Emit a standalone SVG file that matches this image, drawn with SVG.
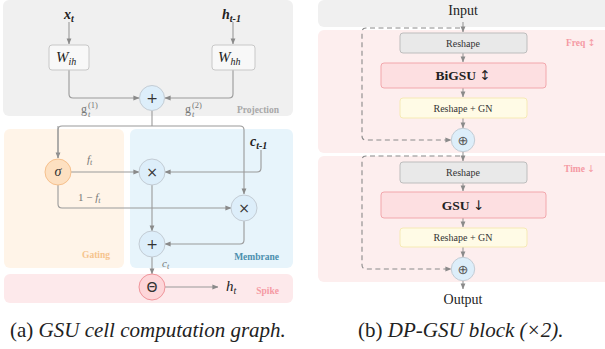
<svg xmlns="http://www.w3.org/2000/svg" width="605" height="349" viewBox="0 0 605 349">
<style>
  .serif { font-family: "Liberation Serif", "Times New Roman", serif; }
  .math { font-family: "Liberation Serif", serif; font-style: italic; }
  .lbl { font-family: "Liberation Serif", serif; font-weight: bold; font-size: 9.5px; }
  .op { font-family: "DejaVu Sans", sans-serif; font-size: 14px; fill: #333; text-anchor: middle; }
  .wire { fill: none; stroke: #9a9a9a; stroke-width: 1.1; }
  .dash { fill: none; stroke: #8a8a8a; stroke-width: 1.1; stroke-dasharray: 5 3.5; }
  .circ { fill: #ddeefa; stroke: #c3ccd4; stroke-width: 1; }
  .gray { fill: #e9e9e9; stroke: #bdbdbd; stroke-width: 1; }
  .red { fill: #fddfe1; stroke: #f2a7ac; stroke-width: 1; }
  .yel { fill: #fffbe6; stroke: #f6eab5; stroke-width: 1; }
  .wbox { fill: #f8f8f8; stroke: #c8c8c8; stroke-width: 1; }
</style>
<defs>
  <marker id="arr" viewBox="0 0 8 8" refX="7.5" refY="4" markerWidth="6" markerHeight="6" orient="auto" markerUnits="userSpaceOnUse">
    <path d="M0,0.8 L8,4 L0,7.2 Z" fill="#8a8a8a"/>
  </marker>
</defs>
<rect width="605" height="349" fill="#ffffff"/>

<!-- left: regions -->
<g id="regions-a">
  <rect x="3" y="0" width="290" height="116" rx="6" fill="#f0f0f0"/>
  <rect x="4" y="129" width="120" height="139" rx="6" fill="#fff4e8"/>
  <rect x="130" y="129" width="163" height="139" rx="6" fill="#e7f4fb"/>
  <rect x="4" y="274" width="289" height="29" rx="6" fill="#fde9eb"/>
  <text class="lbl" x="279" y="113" text-anchor="end" fill="#a8a8a8">Projection</text>
  <text class="lbl" x="110" y="258" text-anchor="end" fill="#f6c48e">Gating</text>
  <text class="lbl" x="279" y="260" text-anchor="end" fill="#4b8fae">Membrane</text>
  <text class="lbl" x="279" y="294" text-anchor="end" fill="#f59aa3">Spike</text>
</g>

<!-- left: connectors -->
<g id="connectors-a">
  <path class="wire" d="M69,22 V44" marker-end="url(#arr)"/>
  <path class="wire" d="M233,22 V44" marker-end="url(#arr)"/>
  <path class="wire" d="M69,70 V94 Q69,98 73,98 H139" marker-end="url(#arr)"/>
  <path class="wire" d="M233,70 V94 Q233,98 229,98 H165" marker-end="url(#arr)"/>
  <path class="wire" d="M152,111 V126"/>
  <path class="wire" d="M58,126 V158" marker-end="url(#arr)"/>
  <path class="wire" d="M58,158 V130 Q58,126 62,126 H240 Q244,126 244,130 V194" marker-end="url(#arr)"/>
  <path class="wire" d="M71,172 H139" marker-end="url(#arr)"/>
  <path class="wire" d="M261,150 V168 Q261,172 257,172 H165" marker-end="url(#arr)"/>
  <path class="wire" d="M58,185 V204 Q58,208 62,208 H231" marker-end="url(#arr)"/>
  <path class="wire" d="M152,185 V231" marker-end="url(#arr)"/>
  <path class="wire" d="M244,221 V240 Q244,244 240,244 H165" marker-end="url(#arr)"/>
  <path class="wire" d="M152,257 V274" marker-end="url(#arr)"/>
  <path class="wire" d="M165,287 H218" marker-end="url(#arr)"/>
</g>

<!-- left: nodes -->
<g id="x-t">
  <text class="math" x="64" y="19" font-size="14" font-weight="bold" fill="#222">x<tspan font-size="10" dy="3">t</tspan></text>
</g>
<g id="h-prev">
  <text class="math" x="222" y="19" font-size="14" font-weight="bold" fill="#222">h<tspan font-size="10" dy="3">t-1</tspan></text>
</g>
<g id="W-ih">
  <rect class="wbox" x="49" y="45" width="40" height="25" rx="3"/>
  <text class="math" x="56" y="62" font-size="15" fill="#222">W<tspan font-size="10" dy="3">ih</tspan></text>
</g>
<g id="W-hh">
  <rect class="wbox" x="212" y="45" width="43" height="25" rx="3"/>
  <text class="math" x="218" y="62" font-size="15" fill="#222">W<tspan font-size="10" dy="3">hh</tspan></text>
</g>
<g id="sum-proj">
  <circle class="circ" cx="152" cy="98" r="12.5"/>
  <text class="op" x="152" y="103">+</text>
</g>
<g id="g1-label">
  <text class="serif" x="81" y="113" font-size="12" fill="#777">g</text>
  <text class="math" x="88" y="117" font-size="8.5" fill="#777">t</text>
  <text class="serif" x="88" y="108" font-size="8.5" fill="#777">(1)</text>
</g>
<g id="g2-label">
  <text class="serif" x="185" y="113" font-size="12" fill="#777">g</text>
  <text class="math" x="192" y="117" font-size="8.5" fill="#777">t</text>
  <text class="serif" x="192" y="108" font-size="8.5" fill="#777">(2)</text>
</g>
<g id="sigma">
  <circle cx="58" cy="172" r="13" fill="#fde0c1" stroke="#f6c08c" stroke-width="1"/>
  <text class="math" x="58" y="176" font-size="14" text-anchor="middle" fill="#333">σ</text>
</g>
<g id="ft-label">
  <text class="math" x="87" y="163" font-size="11" fill="#777">f<tspan font-size="8" dy="2">t</tspan></text>
</g>
<g id="omft-label">
  <text class="math" x="78" y="201" font-size="11" fill="#777"><tspan font-style="normal">1 − </tspan>f<tspan font-size="8" dy="2">t</tspan></text>
</g>
<g id="c-prev">
  <text class="math" x="250" y="146" font-size="14" font-weight="bold" fill="#222">c<tspan font-size="10" dy="3">t-1</tspan></text>
</g>
<g id="mul-forget">
  <circle class="circ" cx="152" cy="172" r="13"/>
  <text class="op" x="152" y="177">×</text>
</g>
<g id="mul-input">
  <circle class="circ" cx="244" cy="208" r="13"/>
  <text class="op" x="244" y="213">×</text>
</g>
<g id="sum-mem">
  <circle class="circ" cx="152" cy="244" r="13"/>
  <text class="op" x="152" y="249">+</text>
</g>
<g id="ct-label">
  <text class="math" x="162" y="267" font-size="11" fill="#777">c<tspan font-size="8" dy="2">t</tspan></text>
</g>
<g id="theta">
  <circle cx="152" cy="287" r="13" fill="#fdd6d9" stroke="#f0959b" stroke-width="1"/>
  <text x="152" y="292" font-family="DejaVu Sans, sans-serif" font-size="14" text-anchor="middle" fill="#333">Θ</text>
</g>
<g id="h-t">
  <text class="math" x="226" y="291" font-size="15" fill="#222">h<tspan font-size="10" dy="3">t</tspan></text>
</g>

<!-- right: regions -->
<g id="regions-b">
  <rect x="318" y="0" width="292" height="27" rx="6" fill="#f0f0f0"/>
  <rect x="318" y="30" width="292" height="123" rx="6" fill="#fdeeee"/>
  <rect x="318" y="156" width="292" height="126" rx="6" fill="#fdeeee"/>
  <text class="lbl" x="566" y="46" fill="#f59aa3">Freq <tspan font-family="DejaVu Sans, sans-serif" font-weight="normal">↕</tspan></text>
  <text class="lbl" x="564" y="172" fill="#f59aa3">Time <tspan font-family="DejaVu Sans, sans-serif" font-weight="normal">↓</tspan></text>
</g>

<!-- right: connectors -->
<g id="connectors-b">
  <path class="wire" d="M463,22 V32" marker-end="url(#arr)"/>
  <path class="wire" d="M463,53 V62" marker-end="url(#arr)"/>
  <path class="wire" d="M463,88 V97" marker-end="url(#arr)"/>
  <path class="wire" d="M463,118 V128" marker-end="url(#arr)"/>
  <path class="dash" d="M460,28 H366 Q362,28 362,32 V136 Q362,140 366,140 H451" marker-end="url(#arr)"/>
  <path class="wire" d="M463,152 V161" marker-end="url(#arr)"/>
  <path class="wire" d="M463,183 V191" marker-end="url(#arr)"/>
  <path class="wire" d="M463,218 V227" marker-end="url(#arr)"/>
  <path class="wire" d="M463,247 V257" marker-end="url(#arr)"/>
  <path class="dash" d="M460,156 H366 Q362,156 362,160 V265 Q362,269 366,269 H451" marker-end="url(#arr)"/>
  <path class="wire" d="M463,281 V289" marker-end="url(#arr)"/>
</g>

<!-- right: nodes -->
<g id="input">
  <text class="serif" x="463" y="15" font-size="14" text-anchor="middle" fill="#222">Input</text>
</g>
<g id="reshape-1">
  <rect class="gray" x="400" y="33" width="127" height="20" rx="3"/>
  <text class="serif" x="463" y="46.5" font-size="10" text-anchor="middle" fill="#333">Reshape</text>
</g>
<g id="bigsu">
  <rect class="red" x="381" y="63" width="165" height="25" rx="3"/>
  <text class="serif" x="463" y="80" font-size="13.5" font-weight="bold" text-anchor="middle" fill="#222">BiGSU <tspan font-family="DejaVu Sans, sans-serif" font-weight="normal">↕</tspan></text>
</g>
<g id="reshape-gn-1">
  <rect class="yel" x="400" y="98" width="127" height="20" rx="3"/>
  <text class="serif" x="463" y="111.5" font-size="10" text-anchor="middle" fill="#333">Reshape + GN</text>
</g>
<g id="add-1">
  <circle class="circ" cx="463" cy="140" r="11.7"/>
  <text x="463" y="144.5" font-family="DejaVu Sans, sans-serif" font-size="13" text-anchor="middle" fill="#555">⊕</text>
</g>
<g id="reshape-2">
  <rect class="gray" x="400" y="162" width="127" height="21" rx="3"/>
  <text class="serif" x="463" y="176" font-size="10" text-anchor="middle" fill="#333">Reshape</text>
</g>
<g id="gsu">
  <rect class="red" x="381" y="192" width="165" height="26" rx="3"/>
  <text class="serif" x="463" y="209.5" font-size="13.5" font-weight="bold" text-anchor="middle" fill="#222">GSU <tspan font-family="DejaVu Sans, sans-serif" font-weight="normal">↓</tspan></text>
</g>
<g id="reshape-gn-2">
  <rect class="yel" x="400" y="228" width="127" height="19" rx="3"/>
  <text class="serif" x="463" y="241" font-size="10" text-anchor="middle" fill="#333">Reshape + GN</text>
</g>
<g id="add-2">
  <circle class="circ" cx="463" cy="269" r="11.7"/>
  <text x="463" y="273.5" font-family="DejaVu Sans, sans-serif" font-size="13" text-anchor="middle" fill="#555">⊕</text>
</g>
<g id="output">
  <text class="serif" x="463" y="304" font-size="14" text-anchor="middle" fill="#222">Output</text>
</g>

<!-- captions -->
<g id="captions">
  <text class="serif" x="10" y="337" font-size="21" fill="#222">(a) <tspan font-style="italic">GSU cell computation graph.</tspan></text>
  <text class="serif" x="358" y="337" font-size="21" fill="#222">(b) <tspan font-style="italic">DP-GSU block (×2).</tspan></text>
</g>
</svg>
